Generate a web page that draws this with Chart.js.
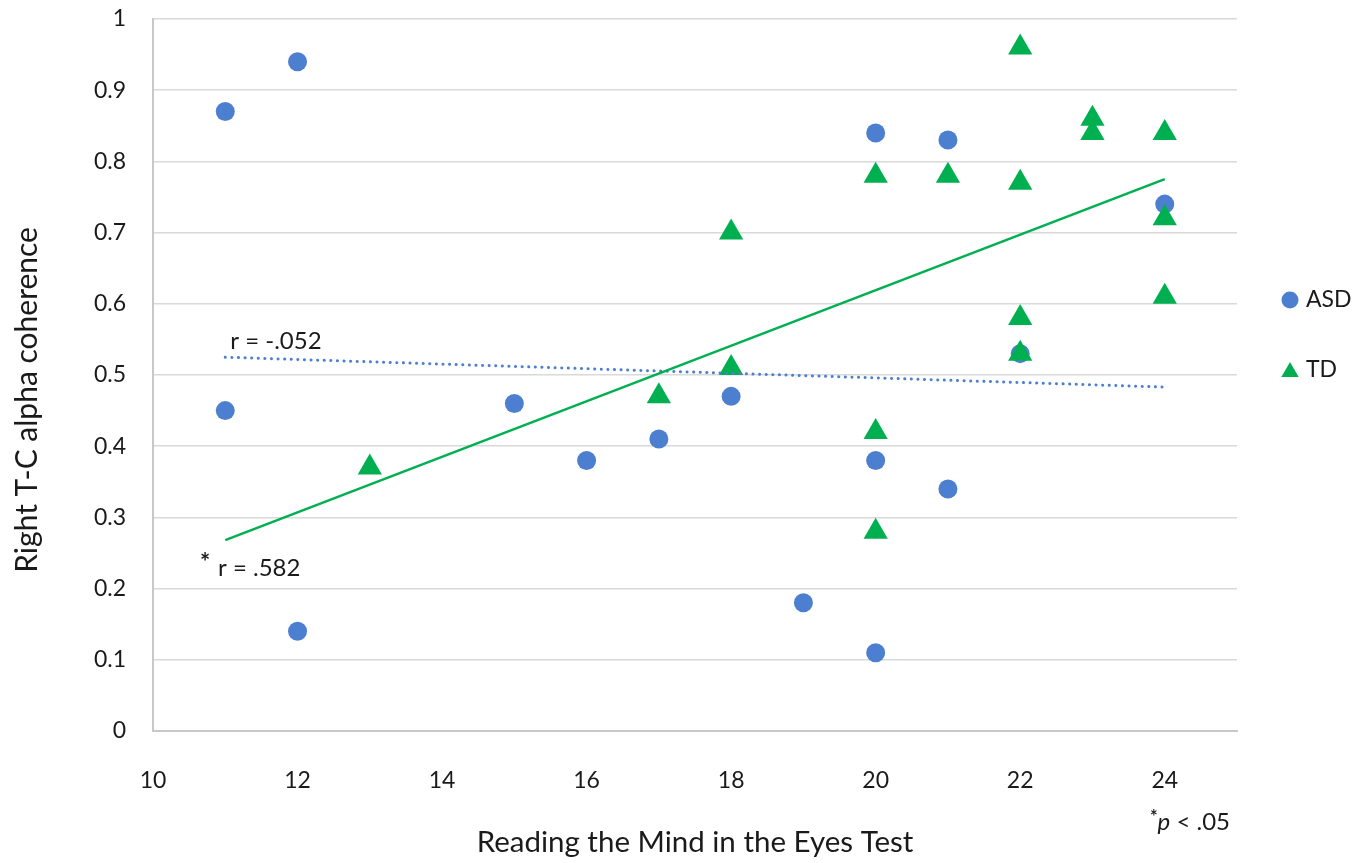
<!DOCTYPE html>
<html>
<head>
<meta charset="utf-8">
<script src="https://cdn.jsdelivr.net/npm/chart.js@4.4.1/dist/chart.umd.min.js"></script>
<style>
  html, body { margin: 0; padding: 0; background: #fff; }
  #wrap { width: 1369px; height: 863px; }
</style>
</head>
<body>
<div id="wrap"><canvas id="rmetChart"></canvas></div>
<script>
// ASD group (blue circles)
const asdX = [11, 12, 11, 12, 15, 16, 17, 18, 19, 20, 20, 20, 21, 21, 22, 24];
const asdY = [0.87, 0.94, 0.45, 0.14, 0.46, 0.38, 0.41, 0.47, 0.18, 0.84, 0.38, 0.11, 0.83, 0.34, 0.53, 0.74];
// TD group (green triangles)
const tdX = [13, 17, 18, 18, 20, 20, 20, 21, 22, 22, 22, 22, 23, 23, 24, 24, 24];
const tdY = [0.37, 0.47, 0.70, 0.51, 0.78, 0.42, 0.28, 0.78, 0.96, 0.77, 0.58, 0.53, 0.86, 0.84, 0.84, 0.72, 0.61];
// linear trend lines, end points
const trendX = [11, 24];
const asdTrendY = [0.525, 0.483];
const tdTrendY = [0.268, 0.775];
// axis ticks
const xTicks = [10, 12, 14, 16, 18, 20, 22, 24];
const yTicks = [0, 0.1, 0.2, 0.3, 0.4, 0.5, 0.6, 0.7, 0.8, 0.9, 1];
const legendOrder = ['ASD', 'TD'];

const blue = '#4d7fd1';
const green = '#00b050';
const textColor = '#1a1a1a';
const fontFam = 'Lato, "Open Sans", sans-serif';

const pts = (xs, ys) => xs.map((x, i) => ({ x: x, y: ys[i] }));

// r labels, y title and footnote
const notesPlugin = {
    id: 'notes',
    afterDatasetsDraw(chart) {
        const ctx = chart.ctx;
        const xs = chart.scales.x, ys = chart.scales.y;
        const area = chart.chartArea;
        ctx.save();
        ctx.fillStyle = textColor;
        ctx.textBaseline = 'middle';
        ctx.textAlign = 'left';
        ctx.font = '24px ' + fontFam;
        ctx.fillText('r = -.052', xs.getPixelForValue(11.07), ys.getPixelForValue(0.548));
        ctx.fillText('r = .582', xs.getPixelForValue(10.9), ys.getPixelForValue(0.228));
        ctx.font = 'bold 24px ' + fontFam;
        ctx.fillText('*', xs.getPixelForValue(10.65), ys.getPixelForValue(0.236));
        // y axis title, sits a bit below the middle as in the original
        ctx.save();
        ctx.translate(27, ys.getPixelForValue(0.465));
        ctx.rotate(-Math.PI / 2);
        ctx.textAlign = 'center';
        ctx.font = '30px ' + fontFam;
        ctx.fillText('Right T-C alpha coherence', 0, 0);
        ctx.restore();
        // footnote *p < .05
        const fy = area.bottom + 91;
        let fx = area.right - 7;
        ctx.textAlign = 'right';
        ctx.font = '24px ' + fontFam;
        ctx.fillText(' < .05', fx, fy);
        fx -= ctx.measureText(' < .05').width;
        ctx.font = 'italic 24px ' + fontFam;
        ctx.fillText('p', fx, fy);
        fx -= ctx.measureText('p').width;
        ctx.font = 'bold 18px ' + fontFam;
        ctx.fillText('*', fx, fy - 5);
        ctx.restore();
    }
};

// legend to the right of the plot
const sideLegend = {
    id: 'sideLegend',
    afterDraw(chart) {
        const ctx = chart.ctx;
        const area = chart.chartArea;
        ctx.save();
        legendOrder.forEach((name, i) => {
            const d = chart.data.datasets.find(ds => ds.label === name);
            const tri = d.pointStyle === 'triangle';
            const cx = area.right + 53;
            const cy = area.top + 281 + i * 70;
            ctx.fillStyle = d.backgroundColor;
            ctx.strokeStyle = d.backgroundColor;
            Chart.helpers.drawPoint(ctx, { pointStyle: d.pointStyle, radius: tri ? 10 : 8.5, borderWidth: 0, rotation: 0 }, cx, cy + (tri ? 2 : 0));
            ctx.fillStyle = textColor;
            ctx.font = '23px ' + fontFam;
            ctx.textAlign = 'left';
            ctx.textBaseline = 'middle';
            ctx.fillText(d.label, cx + 16, cy);
        });
        ctx.restore();
    }
};

const ctx = document.getElementById('rmetChart').getContext('2d');
new Chart(ctx, {
    type: 'scatter',
    data: {
        datasets: [
            { type: 'line', label: 'TD trend', data: pts(trendX, tdTrendY), borderColor: green, borderWidth: 2.5, pointRadius: 0, fill: false },
            { type: 'line', label: 'ASD trend', data: pts(trendX, asdTrendY), borderColor: blue, borderWidth: 3, borderDash: [0.1, 6.5], borderCapStyle: 'round', pointRadius: 0, fill: false },
            { label: 'TD', data: pts(tdX, tdY), pointStyle: 'triangle', pointRadius: 14, pointHoverRadius: 14, backgroundColor: green, borderColor: green, borderWidth: 0 },
            { label: 'ASD', data: pts(asdX, asdY), pointStyle: 'circle', pointRadius: 9.5, pointHoverRadius: 9.5, backgroundColor: blue, borderColor: blue, borderWidth: 0 }
        ]
    },
    options: {
        responsive: true,
        maintainAspectRatio: false,
        animation: false,
        layout: { padding: { left: 0, top: 19, right: 132, bottom: 0 } },
        plugins: { legend: { display: false }, tooltip: { enabled: false } },
        scales: {
            x: {
                type: 'linear', min: 10, max: 25,
                afterBuildTicks: s => { s.ticks = xTicks.map(v => ({ value: v })); },
                afterFit: s => { s.height = 132; },
                grid: { display: false },
                border: { display: true, color: '#c8c8c8', width: 2 },
                ticks: { color: textColor, font: { family: fontFam, size: 23 }, padding: 28, callback: v => String(v) },
                title: { display: true, text: 'Reading the Mind in the Eyes Test', color: textColor, font: { family: fontFam, size: 29.5 }, padding: { top: 0, bottom: 3 } }
            },
            y: {
                type: 'linear', min: 0, max: 1,
                afterBuildTicks: s => { s.ticks = yTicks.map(v => ({ value: v })); },
                afterFit: s => { s.width = 153; s.paddingTop = 0; s.paddingBottom = 0; },
                grid: { color: '#d9d9d9', lineWidth: 1.5, drawTicks: false },
                border: { display: true, color: '#c8c8c8', width: 2 },
                ticks: { color: textColor, font: { family: fontFam, size: 23 }, padding: 27, callback: v => String(v) },
                title: { display: false }
            }
        }
    },
    plugins: [notesPlugin, sideLegend]
});
</script>
</body>
</html>
